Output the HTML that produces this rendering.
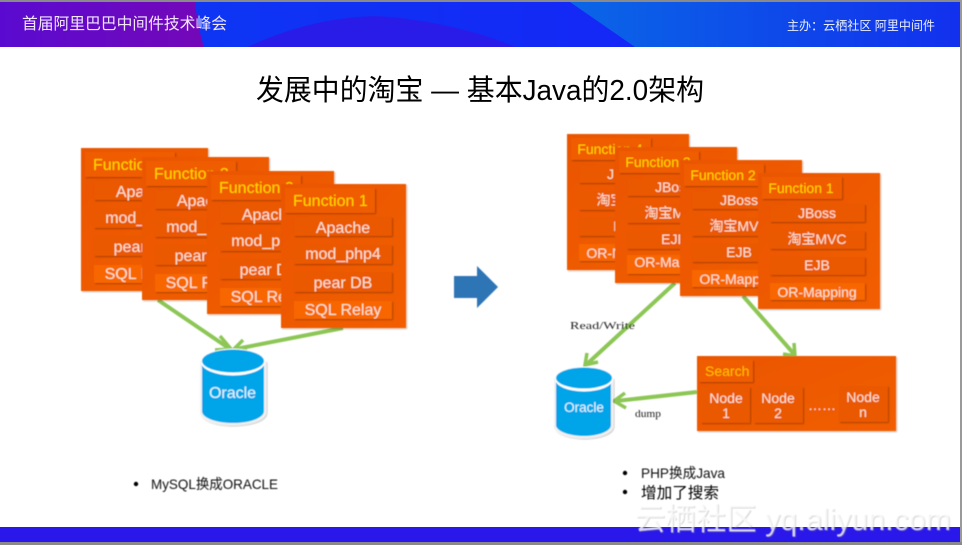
<!DOCTYPE html>
<html><head><meta charset="utf-8"><style>
html,body{margin:0;padding:0;background:#fff;width:962px;height:545px;overflow:hidden}
svg{display:block}
text{font-family:"Liberation Sans","Noto Sans CJK SC",sans-serif}
.t{fill:#ffd800;font-size:16px}
.r{fill:#fbe3d3;font-size:16px;text-anchor:middle}
.s{fill:#fbe3d3;font-size:14px;text-anchor:middle}
</style></head><body>
<svg width="962" height="545" viewBox="0 0 962 545" xmlns="http://www.w3.org/2000/svg">
<defs>
<linearGradient id="hd" x1="0" x2="1"><stop offset="0" stop-color="#5a0ad0"/><stop offset="1" stop-color="#7408b8"/></linearGradient>
<linearGradient id="hb" x1="0" x2="1"><stop offset="0" stop-color="#0a3cf2"/><stop offset="1" stop-color="#1a1cf8"/></linearGradient>
<linearGradient id="hr" x1="0" x2="1"><stop offset="0" stop-color="#0a66e6"/><stop offset="1" stop-color="#1230ee"/></linearGradient>
<linearGradient id="p" x1="0" y1="0" x2="1" y2="1"><stop offset="0" stop-color="#ea5602"/><stop offset="1" stop-color="#f25e03"/></linearGradient>
<filter id="b" x="-5%" y="-5%" width="110%" height="110%"><feGaussianBlur stdDeviation="0.5"/></filter>
<filter id="sh" x="-10%" y="-10%" width="125%" height="125%"><feDropShadow dx="1" dy="1" stdDeviation="0.8" flood-color="#000" flood-opacity=".3"/></filter>
</defs>

<rect width="962" height="545" fill="#fff"/>
<rect width="962" height="2" fill="#8a8a8a"/>
<rect x="960" width="2" height="545" fill="#9a9a9a"/>
<rect y="542" width="962" height="3" fill="#8a8a8a"/>

<rect x="0" y="2" width="960" height="45" fill="url(#hb)"/>
<path d="M248 47C300 22 360 12 400 18C450 24 490 36 515 47Z" fill="#2a1ce8"/>
<path d="M570 2H960V47H635Z" fill="url(#hr)"/>
<path d="M0 2H195C197 20 200 35 204 47H0Z" fill="url(#hd)"/>
<text x="22" y="29" font-size="15.8" fill="#f2e6fb" textLength="205" lengthAdjust="spacingAndGlyphs">首届阿里巴巴中间件技术峰会</text>
<text x="787" y="30" font-size="12.5" fill="#e8eefc" textLength="148" lengthAdjust="spacingAndGlyphs">主办：云栖社区 阿里中间件</text>

<text x="256" y="100" font-size="29" fill="#000" textLength="448" lengthAdjust="spacingAndGlyphs">发展中的淘宝 — 基本Java的2.0架构</text>

<rect x="0" y="527" width="960" height="15" fill="#2a18ea"/>

<g filter="url(#b)">
<!-- left arrows -->
<g stroke="#8cc654" stroke-width="4" fill="none">
<path d="M158 300L230 349"/>
<path d="M343 328L236 349"/>
<path d="M220 336L231 349L215 350" stroke-width="3.5"/>
<path d="M243 340L234 349L247 351" stroke-width="3.5"/>
</g>

<!-- left stack -->
<g transform="translate(-200,-36)">
<rect x="281" y="184" width="127" height="143" fill="url(#p)" filter="url(#sh)"/>
<rect x="285" y="188" width="90" height="25" fill="#f05c04" filter="url(#sh)"/>
<text class="t" x="293" y="206">Function 4</text>
<rect x="294" y="217" width="98" height="19" fill="#ea5804" filter="url(#sh)"/>
<rect x="294" y="245" width="98" height="19" fill="#ea5804" filter="url(#sh)"/>
<rect x="294" y="272" width="98" height="20" fill="#ea5804" filter="url(#sh)"/>
<rect x="294" y="301" width="98" height="18" fill="#f86604" filter="url(#sh)"/>
<text class="r" x="343" y="233">Apache</text><text class="r" x="343" y="259">mod_php4</text><text class="r" x="343" y="288">pear DB</text><text class="r" x="343" y="315">SQL Relay</text>
</g>
<g transform="translate(-139,-27)">
<rect x="281" y="184" width="127" height="143" fill="url(#p)" filter="url(#sh)"/>
<rect x="285" y="188" width="90" height="25" fill="#f05c04" filter="url(#sh)"/>
<text class="t" x="293" y="206">Function 3</text>
<rect x="294" y="217" width="98" height="19" fill="#ea5804" filter="url(#sh)"/>
<rect x="294" y="245" width="98" height="19" fill="#ea5804" filter="url(#sh)"/>
<rect x="294" y="272" width="98" height="20" fill="#ea5804" filter="url(#sh)"/>
<rect x="294" y="301" width="98" height="18" fill="#f86604" filter="url(#sh)"/>
<text class="r" x="343" y="233">Apache</text><text class="r" x="343" y="259">mod_php4</text><text class="r" x="343" y="288">pear DB</text><text class="r" x="343" y="315">SQL Relay</text>
</g>
<g transform="translate(-74,-13)">
<rect x="281" y="184" width="127" height="143" fill="url(#p)" filter="url(#sh)"/>
<rect x="285" y="188" width="90" height="25" fill="#f05c04" filter="url(#sh)"/>
<text class="t" x="293" y="206">Function 2</text>
<rect x="294" y="217" width="98" height="19" fill="#ea5804" filter="url(#sh)"/>
<rect x="294" y="245" width="98" height="19" fill="#ea5804" filter="url(#sh)"/>
<rect x="294" y="272" width="98" height="20" fill="#ea5804" filter="url(#sh)"/>
<rect x="294" y="301" width="98" height="18" fill="#f86604" filter="url(#sh)"/>
<text class="r" x="343" y="233">Apache</text><text class="r" x="343" y="259">mod_php4</text><text class="r" x="343" y="288">pear DB</text><text class="r" x="343" y="315">SQL Relay</text>
</g>
<g>
<rect x="281" y="184" width="125" height="144" fill="url(#p)" filter="url(#sh)"/>
<rect x="285" y="188" width="90" height="25" fill="#f05c04" filter="url(#sh)"/>
<text class="t" x="293" y="206">Function 1</text>
<rect x="294" y="217" width="98" height="19" fill="#ea5804" filter="url(#sh)"/>
<rect x="294" y="245" width="98" height="19" fill="#ea5804" filter="url(#sh)"/>
<rect x="294" y="272" width="98" height="20" fill="#ea5804" filter="url(#sh)"/>
<rect x="294" y="301" width="98" height="18" fill="#f86604" filter="url(#sh)"/>
<text class="r" x="343" y="233">Apache</text><text class="r" x="343" y="259">mod_php4</text><text class="r" x="343" y="288">pear DB</text><text class="r" x="343" y="315">SQL Relay</text>
</g>

<!-- left cylinder -->
<path d="M200 361V412C200 420 215 425 233 425C251 425 266 420 266 412V361Z" fill="#f2f2f2" filter="url(#sh)"/>
<path d="M202 362V411C202 418 216 423 233 423C250 423 264 418 264 411V362Z" fill="#00a5e9"/>
<ellipse cx="233" cy="362" rx="32" ry="13.5" fill="#fff"/>
<ellipse cx="233" cy="361" rx="31" ry="11.5" fill="#00a5e9"/>
<text x="232.500" y="398" font-size="16" fill="#e6f6fd" text-anchor="middle">Oracle</text>

<!-- big arrow -->
<path d="M454 276H477V266L498 287L477 308V298H454Z" fill="#2e75b6"/>

<!-- right arrows -->
<g stroke="#8cc654" stroke-width="4" fill="none">
<path d="M675 283L587 364"/>
<path d="M743 296L794 354"/>
<path d="M697 392L616 401"/>
<path d="M587 353L585 365L598 362" stroke-width="3.500"/>
<path d="M783 354L795 356L794 343" stroke-width="3.500"/>
<path d="M625 393L614 401L626 408" stroke-width="3.500"/>
</g>

<!-- right stack -->
<g transform="translate(-191,-39)">
<rect x="758" y="173" width="122" height="136" fill="url(#p)" filter="url(#sh)"/>
<rect x="762" y="177" width="80" height="22" fill="#f05c04" filter="url(#sh)"/>
<text class="s" x="801" y="193" style="fill:#ffd800">Function 4</text>
<rect x="770" y="204" width="95" height="18" fill="#ea5804" filter="url(#sh)"/>
<rect x="770" y="231" width="95" height="18" fill="#ea5804" filter="url(#sh)"/>
<rect x="770" y="257" width="95" height="18" fill="#ea5804" filter="url(#sh)"/>
<rect x="770" y="283" width="95" height="17" fill="#f86604" filter="url(#sh)"/>
<text class="s" x="817" y="218">JBoss</text><text class="s" x="817" y="244">淘宝MVC</text><text class="s" x="817" y="270">EJB</text><text class="s" x="817" y="297">OR-Mapping</text>
</g>
<g transform="translate(-143,-26)">
<rect x="758" y="173" width="122" height="136" fill="url(#p)" filter="url(#sh)"/>
<rect x="762" y="177" width="80" height="22" fill="#f05c04" filter="url(#sh)"/>
<text class="s" x="801" y="193" style="fill:#ffd800">Function 3</text>
<rect x="770" y="204" width="95" height="18" fill="#ea5804" filter="url(#sh)"/>
<rect x="770" y="231" width="95" height="18" fill="#ea5804" filter="url(#sh)"/>
<rect x="770" y="257" width="95" height="18" fill="#ea5804" filter="url(#sh)"/>
<rect x="770" y="281" width="95" height="19" fill="#f86604" filter="url(#sh)"/>
<text class="s" x="817" y="218">JBoss</text><text class="s" x="817" y="244">淘宝MVC</text><text class="s" x="817" y="270">EJB</text><text class="s" x="817" y="293">OR-Mapping</text>
</g>
<g transform="translate(-78,-13)">
<rect x="758" y="173" width="122" height="136" fill="url(#p)" filter="url(#sh)"/>
<rect x="762" y="177" width="80" height="22" fill="#f05c04" filter="url(#sh)"/>
<text class="s" x="801" y="193" style="fill:#ffd800">Function 2</text>
<rect x="770" y="204" width="95" height="18" fill="#ea5804" filter="url(#sh)"/>
<rect x="770" y="231" width="95" height="18" fill="#ea5804" filter="url(#sh)"/>
<rect x="770" y="257" width="95" height="18" fill="#ea5804" filter="url(#sh)"/>
<rect x="770" y="283" width="95" height="17" fill="#f86604" filter="url(#sh)"/>
<text class="s" x="817" y="218">JBoss</text><text class="s" x="817" y="244">淘宝MVC</text><text class="s" x="817" y="270">EJB</text><text class="s" x="817" y="297">OR-Mapping</text>
</g>
<g>
<rect x="758" y="173" width="122" height="136" fill="url(#p)" filter="url(#sh)"/>
<rect x="762" y="177" width="80" height="22" fill="#f05c04" filter="url(#sh)"/>
<text class="s" x="801" y="193" style="fill:#ffd800">Function 1</text>
<rect x="770" y="204" width="95" height="18" fill="#ea5804" filter="url(#sh)"/>
<rect x="770" y="231" width="95" height="18" fill="#ea5804" filter="url(#sh)"/>
<rect x="770" y="257" width="95" height="18" fill="#ea5804" filter="url(#sh)"/>
<rect x="770" y="283" width="95" height="17" fill="#f86604" filter="url(#sh)"/>
<text class="s" x="817" y="218">JBoss</text><text class="s" x="817" y="244">淘宝MVC</text><text class="s" x="817" y="270">EJB</text><text class="s" x="817" y="297">OR-Mapping</text>
</g>

<!-- right cylinder -->
<path d="M554 378V426C554 433 568 438 584 438C600 438 613 433 613 426V378Z" fill="#f2f2f2" filter="url(#sh)"/>
<path d="M556 379V425C556 431 569 436 584 436C599 436 611 431 611 425V379Z" fill="#00a5e9"/>
<ellipse cx="584" cy="379" rx="29" ry="12.500" fill="#fff"/>
<ellipse cx="584" cy="378" rx="28" ry="10.500" fill="#00a5e9"/>
<text x="584" y="412" font-size="13.500" fill="#e6f6fd" text-anchor="middle">Oracle</text>

<!-- search -->
<rect x="697" y="356" width="199" height="75" fill="url(#p)" filter="url(#sh)"/>
<rect x="699" y="360" width="54" height="22" fill="#f05c04" filter="url(#sh)"/>
<text x="705" y="376" font-size="14" fill="#ffc000">Search</text>
<rect x="701" y="387" width="49" height="36" fill="#ea5804" filter="url(#sh)"/>
<rect x="754" y="387" width="49" height="36" fill="#ea5804" filter="url(#sh)"/>
<rect x="839" y="386" width="49" height="36" fill="#ea5804" filter="url(#sh)"/>
<text class="s" x="726" y="403">Node</text><text class="s" x="726" y="418">1</text>
<text class="s" x="778" y="403">Node</text><text class="s" x="778" y="418">2</text>
<text class="s" x="863" y="402">Node</text><text class="s" x="863" y="417">n</text>
<text class="s" x="822" y="410">……</text>

<text x="570" y="329" font-size="11" fill="#222" style="font-family:'Liberation Serif',serif" textLength="65" lengthAdjust="spacingAndGlyphs">Read/Write</text>
<text x="635" y="417" font-size="11" fill="#222" style="font-family:'Liberation Serif',serif" textLength="26" lengthAdjust="spacingAndGlyphs">dump</text>

<!-- bullets -->
<circle cx="136" cy="484" r="2.200" fill="#000"/>
<text x="151" y="489" font-size="14" fill="#111" textLength="127" lengthAdjust="spacingAndGlyphs">MySQL换成ORACLE</text>
<circle cx="625" cy="473" r="2.200" fill="#000"/>
<text x="641" y="478" font-size="14" fill="#111" textLength="84" lengthAdjust="spacingAndGlyphs">PHP换成Java</text>
<circle cx="625" cy="492" r="2.200" fill="#000"/>
<text x="641" y="498" font-size="15.500" fill="#000" textLength="78" lengthAdjust="spacingAndGlyphs">增加了搜索</text>
</g>

<!-- watermark -->
<g filter="url(#b)">
<text x="636" y="531" font-size="31" fill="#888" fill-opacity=".35" textLength="316" lengthAdjust="spacingAndGlyphs">云栖社区 yq.aliyun.com</text>
<text x="635" y="530" font-size="31" fill="#fff" fill-opacity=".8" textLength="316" lengthAdjust="spacingAndGlyphs">云栖社区 yq.aliyun.com</text>
</g>
</svg>
</body></html>
